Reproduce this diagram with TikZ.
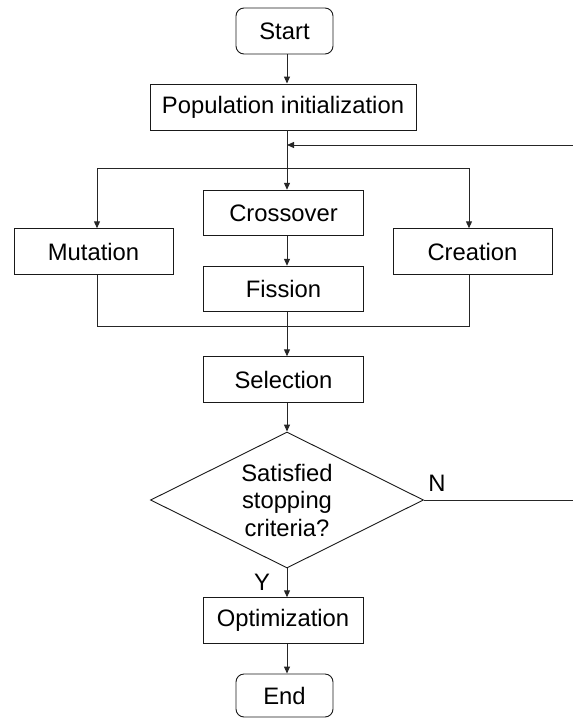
\documentclass[tikz,border=0pt]{standalone}
\usepackage{fontspec}
\setmainfont{Liberation Sans}
\usetikzlibrary{arrows.meta,shapes.geometric}

\begin{document}
\begin{tikzpicture}[x=1pt,y=-1pt,
  every node/.style={font=\fontsize{23.8}{27.5}\selectfont, text=black},
  outline/.style={draw=black!90, line width=0.9pt},
  box/.style={outline, rectangle, inner sep=0pt, minimum width=160pt, minimum height=45.5pt},
  term/.style={outline, rectangle, rounded corners=8pt, inner sep=0pt, minimum width=97pt},
  decision/.style={outline, diamond, aspect=2, inner sep=0pt, align=center,
                   minimum width=273pt, minimum height=136pt},
  flow/.style={line width=1pt, draw=black!85},
  arrow/.style={flow, -{Triangle[length=7pt,width=6pt]}},
  lbl/.style={inner sep=0pt}
]
\useasboundingbox (0,0) rectangle (573,718);

% main spine and helper coordinates
\coordinate (spine) at (287,0);
\coordinate (fbR) at (573,145);
\coordinate (fbL) at (287,145);
\coordinate (splitL) at (97,168);
\coordinate (splitR) at (469,168);
\coordinate (mergeL) at (97,326);
\coordinate (mergeR) at (469,326);
\coordinate (noEnd) at (573,500);

% nodes
\node[term, minimum height=46pt] (start) at (284.5,31) {Start};
\node[box, minimum width=266pt, minimum height=46pt] (init) at (283,107) {Population initialization};
\node[box] (cross) at (283.5,213) {Crossover};
\node[box, minimum width=159pt] (mut) at (93.5,251.5) {Mutation};
\node[box, minimum width=159pt] (crea) at (472.5,251.5) {Creation};
\node[box] (fis) at (283.5,289) {Fission};
\node[box] (sel) at (283.5,379.5) {Selection};
\node[decision] (dec) at (287,500) {Satisfied\\stopping\\criteria?};
\node[box] (opt) at (283,620.5) {Optimization};
\node[term, minimum height=43pt] (end) at (284.5,695.5) {End};

\node[lbl] (nlab) at (437,483) {N};
\node[lbl] (ylab) at (262,582) {Y};

% connectors
\draw[arrow] (start.south -| spine) -- (init.north -| spine);
\draw[arrow] (init.south -| spine) -- (cross.north -| spine);
\draw[arrow] (fbR) -- (fbL);
\draw[flow] (splitL) -- (splitR);
\draw[arrow] (splitL) -- (mut.north -| splitL);
\draw[arrow] (splitR) -- (crea.north -| splitR);
\draw[arrow] (cross.south -| spine) -- (fis.north -| spine);
\draw[flow] (mut.south -| mergeL) -- (mergeL) -- (mergeR) -- (crea.south -| mergeR);
\draw[arrow] (fis.south -| spine) -- (sel.north -| spine);
\draw[arrow] (sel.south -| spine) -- (dec.north);
\draw[flow] (dec.east) -- (noEnd);
\draw[arrow] (dec.south) -- (opt.north -| dec.south);
\draw[arrow] (opt.south -| spine) -- (end.north -| spine);
\end{tikzpicture}
\end{document}
